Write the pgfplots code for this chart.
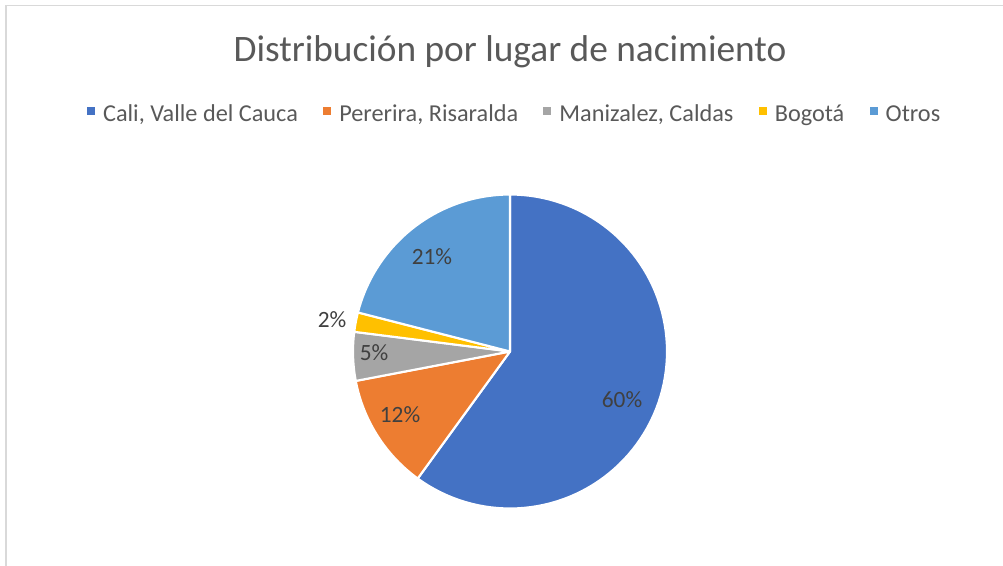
\documentclass[border=0pt]{standalone}
\usepackage{pgfplots}
\pgfplotsset{compat=1.18}
\usepackage{pgfplotstable}
\usepackage{fontspec}
\setmainfont{Carlito}
\definecolor{cA}{HTML}{4472C4}
\definecolor{cB}{HTML}{ED7D31}
\definecolor{cC}{HTML}{A5A5A5}
\definecolor{cD}{HTML}{FFC000}
\definecolor{cE}{HTML}{5B9BD5}
\definecolor{titlegray}{HTML}{595959}
\definecolor{labgray}{HTML}{404040}
\definecolor{framegray}{HTML}{D9D9D9}
\pgfplotstableread{
label pct
Cali 60
Pererira 12
Manizalez 5
Bogota 2
Otros 21
}\piedata
\begin{document}
\pgfplotstablegetelem{0}{pct}\of\piedata\edef\vA{\pgfplotsretval}%
\pgfplotstablegetelem{1}{pct}\of\piedata\edef\vB{\pgfplotsretval}%
\pgfplotstablegetelem{2}{pct}\of\piedata\edef\vC{\pgfplotsretval}%
\pgfplotstablegetelem{3}{pct}\of\piedata\edef\vD{\pgfplotsretval}%
\pgfplotstablegetelem{4}{pct}\of\piedata\edef\vE{\pgfplotsretval}%
\pgfmathsetmacro\aA{90}%
\pgfmathsetmacro\aB{\aA-3.6*\vA}%
\pgfmathsetmacro\aC{\aB-3.6*\vB}%
\pgfmathsetmacro\aD{\aC-3.6*\vC}%
\pgfmathsetmacro\aE{\aD-3.6*\vD}%
\pgfmathsetmacro\aF{\aE-3.6*\vE}%
\begin{tikzpicture}
\useasboundingbox (0,0) rectangle (752.25pt,423.75pt);
\begin{axis}[
  at={(0,0)}, anchor=south west,
  width=752.25pt, height=423.75pt, scale only axis,
  xmin=0, xmax=1003, ymin=0, ymax=565,
  hide axis, clip=false,
  legend image code/.code={\path[draw=none,fill=none] (0pt,3pt) rectangle (10pt,9pt); \fill[#1, draw=none] (0pt,3pt) rectangle (6pt,9pt);},
  legend columns=5,
  legend style={at={(axis cs:515,448)}, anchor=center, draw=none, fill=none,
    font=\fontsize{18.2}{22}\selectfont, text=titlegray,
    nodes={text height=0.7em, text depth=0.22em},
    /tikz/every even column/.append style={column sep=17pt}},
  legend cell align=left,
]
\def\cx{510}\def\cy{213.5}\def\rr{157}
\addplot[fill=cA, draw=white, line width=1.6pt, line join=round, domain=\aB:\aA, samples=90, forget plot]
  ({\cx+\rr*cos(x)},{\cy+\rr*sin(x)}) -- (\cx,\cy) -- cycle;
\addplot[fill=cB, draw=white, line width=1.6pt, line join=round, domain=\aC:\aB, samples=40, forget plot]
  ({\cx+\rr*cos(x)},{\cy+\rr*sin(x)}) -- (\cx,\cy) -- cycle;
\addplot[fill=cC, draw=white, line width=1.6pt, line join=round, domain=\aD:\aC, samples=20, forget plot]
  ({\cx+\rr*cos(x)},{\cy+\rr*sin(x)}) -- (\cx,\cy) -- cycle;
\addplot[fill=cD, draw=white, line width=1.6pt, line join=round, domain=\aE:\aD, samples=10, forget plot]
  ({\cx+\rr*cos(x)},{\cy+\rr*sin(x)}) -- (\cx,\cy) -- cycle;
\addplot[fill=cE, draw=white, line width=1.6pt, line join=round, domain=\aF:\aE, samples=40, forget plot]
  ({\cx+\rr*cos(x)},{\cy+\rr*sin(x)}) -- (\cx,\cy) -- cycle;
\addlegendimage{cA}\addlegendentry{Cali, Valle del Cauca}
\addlegendimage{cB}\addlegendentry{Pererira, Risaralda}
\addlegendimage{cC}\addlegendentry{Manizalez, Caldas}
\addlegendimage{cD}\addlegendentry{Bogotá}
\addlegendimage{cE}\addlegendentry{Otros}
\begin{scope}[every node/.style={font=\fontsize{17.5}{20}\selectfont, text=labgray}]
\node at (axis cs:622,165) {60\%};
\node at (axis cs:400,150) {12\%};
\node at (axis cs:374,212) {5\%};
\node at (axis cs:332,245) {2\%};
\node at (axis cs:432,308) {21\%};
\end{scope}
\node[font=\fontsize{28}{33}\selectfont, text=titlegray] at (axis cs:510,513) {Distribución por lugar de nacimiento};
\draw[framegray, line width=1.2pt] (axis cs:6,-10) -- (axis cs:6,559.5) -- (axis cs:1015,559.5);
\end{axis}
\end{tikzpicture}
\end{document}
